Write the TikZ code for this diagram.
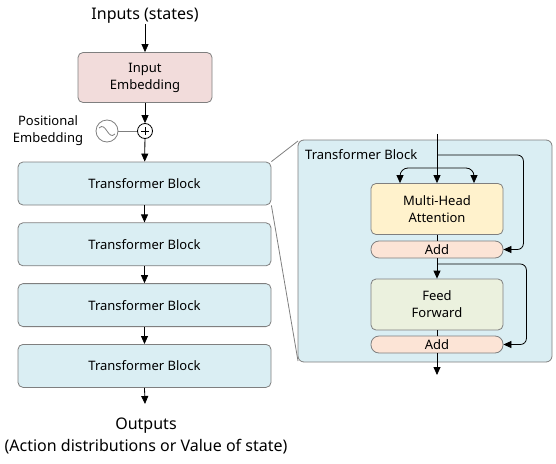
\documentclass[tikz,border=0pt]{standalone}
\usepackage{fontspec}
\setmainfont{Noto Sans}
\usetikzlibrary{positioning,arrows.meta}

\definecolor{embfill}{HTML}{F2DCDB}
\definecolor{blockfill}{HTML}{DAEEF3}
\definecolor{attnfill}{HTML}{FFF2CC}
\definecolor{addfill}{HTML}{FCE4D6}
\definecolor{ffwdfill}{HTML}{EBF1DE}
\definecolor{edge}{HTML}{7F7F7F}

\tikzset{
  box/.style={draw=edge, line width=0.8pt, rounded corners=5pt, align=center,
    inner sep=0pt, font=\fontsize{13}{17}\selectfont},
  tblock/.style={box, fill=blockfill, minimum width=253pt, minimum height=43pt},
  subbox/.style={box, minimum width=132pt, minimum height=51pt},
  addbox/.style={box, fill=addfill, rounded corners=8pt, minimum width=132pt, minimum height=17pt},
  flow/.style={-{Triangle[length=8pt,width=7pt]}, line width=0.8pt},
  captxt/.style={font=\fontsize{16}{22}\selectfont, align=center, inner sep=0pt},
}

\begin{document}
\begin{tikzpicture}[x=1pt, y=-1pt, node distance=17pt]
  \useasboundingbox (0,0) rectangle (556,463);

  % left column
  \node[captxt] (inp) at (145,16) {Inputs (states)};
  \node[box, fill=embfill, minimum width=134pt, minimum height=50pt] (emb) at (145,77.5) {Input\\Embedding};
  \node[circle, draw, line width=0.8pt, fill=white, minimum size=15pt, inner sep=0pt] (plus) at (145,131) {};
  \draw[line width=0.8pt] ([xshift=-4pt]plus.center) -- ([xshift=4pt]plus.center);
  \draw[line width=0.8pt] ([yshift=-4pt]plus.center) -- ([yshift=4pt]plus.center);
  \node[circle, draw=edge, line width=0.8pt, minimum size=22pt, inner sep=0pt] (sine) at (107,131) {};
  \draw[edge, line width=0.8pt] (sine.center) ++(-8,-3) .. controls +(7,-7) and +(-7,7) .. ++(16,6);
  \node[align=center, font=\fontsize{13}{17}\selectfont, inner sep=0pt] (posemb) at (48,130.5) {Positional\\Embedding};

  \node[tblock] (tb1) at (144.5,183.5) {Transformer Block};
  \node[tblock, below=of tb1] (tb2) {Transformer Block};
  \node[tblock, below=of tb2] (tb3) {Transformer Block};
  \node[tblock, below=of tb3] (tb4) {Transformer Block};
  \coordinate (outtip) at (145,404);
  \node[captxt] (out) at (146,436) {Outputs\\(Action distributions or Value of state)};

  \draw[flow] (inp) -- (emb);
  \draw[flow] (emb) -- (plus);
  \draw[line width=0.8pt, edge] (sine) -- (plus);
  \draw[flow] (plus) -- (tb1);
  \draw[flow] (tb1) -- (tb2);
  \draw[flow] (tb2) -- (tb3);
  \draw[flow] (tb3) -- (tb4);
  \draw[flow] (tb4.south) -- (outtip);

  % zoomed transformer block
  \draw[edge, line width=0.8pt] (tb1.north east) -- (298,141);
  \draw[edge, line width=0.8pt] (tb1.south east) -- (298,361);
  \node[draw=edge, line width=0.8pt, fill=blockfill, rounded corners=6pt,
    minimum width=254pt, minimum height=222pt] (panel) at (425,251) {};
  \node[anchor=west, font=\fontsize{13}{17}\selectfont, inner sep=0pt] (ptitle) at (305,155) {Transformer Block};

  \node[subbox, fill=attnfill] (mha) at (437,209) {Multi-Head\\Attention};
  \node[addbox] (add1) at (437,249.5) {Add};
  \node[subbox, fill=ffwdfill] (ffwd) at (437,304.5) {Feed\\Forward};
  \node[addbox] (add2) at (437,344.5) {Add};

  \coordinate (tbin) at (437,134);
  \coordinate (split) at (437,155);
  \coordinate (fork) at (437,168);
  \coordinate (split2) at (437,264);
  \coordinate (tbout) at (437,375);

  \draw[flow] (tbin) -- (mha);
  \draw[flow, rounded corners=8pt] (fork) -| ([xshift=-37pt]mha.north);
  \draw[flow, rounded corners=8pt] (fork) -| ([xshift=37pt]mha.north);
  \draw[flow, rounded corners=6pt] (split) -| ([xshift=20pt]add1.east) -- (add1.east);
  \draw[line width=0.8pt] (mha) -- (add1);
  \draw[flow] (add1) -- (ffwd);
  \draw[flow, rounded corners=6pt] (split2) -| ([xshift=23pt]add2.east) -- (add2.east);
  \draw[line width=0.8pt] (ffwd) -- (add2);
  \draw[flow] (add2) -- (tbout);
\end{tikzpicture}
\end{document}
